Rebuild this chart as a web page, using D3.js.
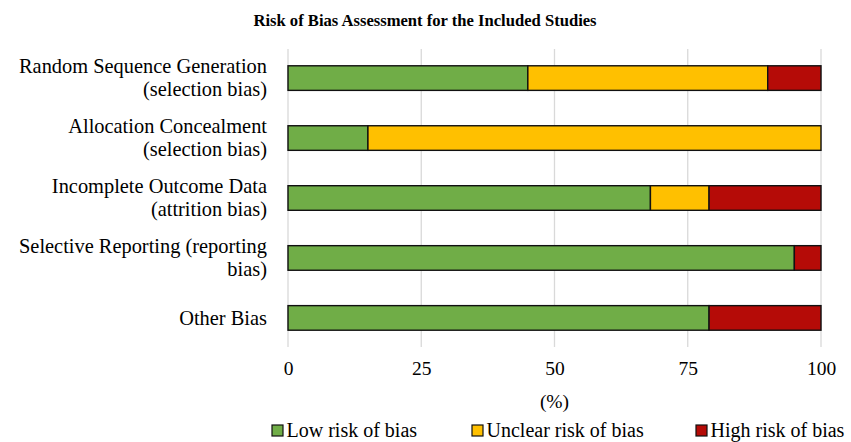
<!DOCTYPE html>
<html><head><meta charset="utf-8">
<script src="https://cdn.jsdelivr.net/npm/d3@7"></script>
<style>body{margin:0;background:#fff}svg{display:block}text{font-family:"Liberation Serif","Times New Roman",serif;fill:#000}</style>
</head><body>
<script>
const title = "Risk of Bias Assessment for the Included Studies";
const categories = [
  ["Random Sequence Generation", "(selection bias)"],
  ["Allocation Concealment", "(selection bias)"],
  ["Incomplete Outcome Data", "(attrition bias)"],
  ["Selective Reporting (reporting", "bias)"],
  ["Other Bias"]
];
const seriesNames = ["Low risk of bias", "Unclear risk of bias", "High risk of bias"];
const lowRisk = [45, 15, 68, 95, 79];
const unclearRisk = [45, 85, 11, 0, 0];
const highRisk = [10, 0, 21, 5, 21];
const xTicks = [0, 25, 50, 75, 100];
const xLabel = "(%)";
const colors = ["#70AD47", "#FFC000", "#B50B07"];

const W = 851, H = 442;
const svg = d3.select("body").append("svg").attr("width", W).attr("height", H);
const pLeft = 288, pRight = 821, pTop = 49, pBottom = 347;

const x = d3.scaleLinear().domain([0, 100]).range([pLeft, pRight]);
const y = d3.scaleBand().domain(d3.range(categories.length)).range([pTop, pBottom]).paddingInner(0.59).paddingOuter(0.28);

svg.append("text").attr("x", 425).attr("y", 26).attr("text-anchor", "middle")
  .style("font-weight", "bold").style("font-size", "16.6px").text(title);

// gridlines
svg.append("g").selectAll("line").data(xTicks).join("line")
  .attr("x1", d => x(d)).attr("x2", d => x(d)).attr("y1", pTop).attr("y2", pBottom)
  .attr("stroke", "#D9D9D9").attr("stroke-width", 1.3);

// stacked bars
const rows = categories.map((c, i) => ({i, low: lowRisk[i], unclear: unclearRisk[i], high: highRisk[i]}));
const stack = d3.stack().keys(["low", "unclear", "high"])(rows);
const g = svg.append("g");
stack.forEach((s, k) => {
  g.selectAll(null).data(s.filter(d => d[1] - d[0] > 0)).join("rect")
    .attr("x", d => x(d[0])).attr("width", d => x(d[1]) - x(d[0]))
    .attr("y", d => y(d.data.i)).attr("height", y.bandwidth())
    .attr("fill", colors[k]).attr("stroke", "#111").attr("stroke-width", 1.4);
});

// category labels
const lab = svg.append("g");
categories.forEach((lines, i) => {
  const cy = y(i) + y.bandwidth() / 2;
  const lh = 23;
  const t = lab.append("text").attr("text-anchor", "end").style("font-size", "20.4px");
  lines.forEach((ln, j) => {
    t.append("tspan").attr("x", 267)
      .attr("y", cy + (j - (lines.length - 1) / 2) * lh)
      .attr("dy", "0.33em").text(ln);
  });
});

// x axis tick labels
const ax = svg.append("g").attr("transform", `translate(0,${pBottom})`)
  .call(d3.axisBottom(x).tickValues(xTicks).tickSize(0).tickPadding(14));
ax.select(".domain").remove();
ax.selectAll("text").style("font-size", "19.5px").style("font-family", '"Liberation Serif",serif').attr("fill", "#000");

svg.append("text").attr("x", x(50)).attr("y", 408).attr("text-anchor", "middle").style("font-size", "19.5px").text(xLabel);

// legend
const legendX = [272, 472, 696];
seriesNames.forEach((n, k) => {
  svg.append("rect").attr("x", legendX[k]).attr("y", 425).attr("width", 11).attr("height", 11)
    .attr("fill", colors[k]).attr("stroke", "#111").attr("stroke-width", 1.2);
  svg.append("text").attr("x", legendX[k] + 14.5).attr("y", 437).style("font-size", "20px").text(n);
});
</script>
</body></html>
